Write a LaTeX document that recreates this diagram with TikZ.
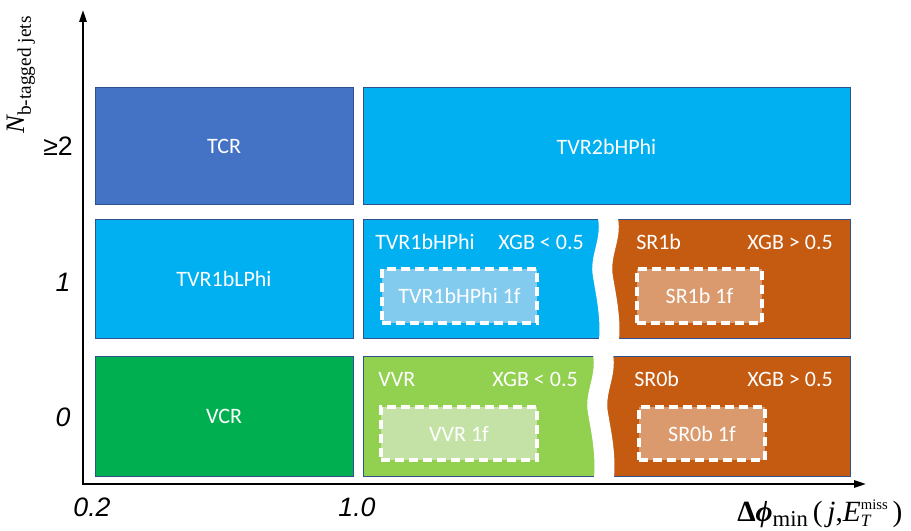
\documentclass[tikz,border=0pt]{standalone}
\usepackage{fontspec}
\setmainfont{Carlito}
\newfontfamily\tickfont{Liberation Sans}
\newfontfamily\titlefont{Liberation Serif}
\usetikzlibrary{arrows.meta,fit}

\definecolor{tcrblue}{HTML}{4472C4}
\definecolor{tvrblue}{HTML}{00B0F0}
\definecolor{vcrgreen}{HTML}{00B050}
\definecolor{vvrgreen}{HTML}{92D050}
\definecolor{srorange}{HTML}{C55A11}
\definecolor{edgeblue}{HTML}{2F528F}
\definecolor{tvrlight}{HTML}{82CBEE}
\definecolor{vvrlight}{HTML}{C4E2A6}
\definecolor{srlight}{HTML}{DA9A6E}

\tikzset{
  region/.style={draw=edgeblue, line width=0.75pt, inner sep=0pt},
  onefbox/.style={draw=white, line width=2.4pt, dash pattern=on 7pt off 3.5pt, inner sep=0pt},
  boxtext/.style={text=white, font=\fontsize{16.5}{19}\selectfont, inner sep=0pt},
  tick/.style={font=\tickfont\itshape\fontsize{20}{24}\selectfont, inner sep=0pt},
  axis/.style={line width=1.5pt, {Triangle[length=9pt,width=5.5pt]}-{Triangle[length=9pt,width=5.5pt]}}
}

\begin{document}
\begin{tikzpicture}[x=0.75pt,y=-0.75pt]
\useasboundingbox (0,0) rectangle (911,531);

% top row
\node[region, fill=tcrblue, fit={(95,88)(353,205)}, label={[boxtext]center:TCR}] (tcr) {};
\node[region, fill=tvrblue, fit={(363,88)(850,205)}, label={[boxtext]center:TVR2bHPhi}] (tvr2bh) {};

% middle row
\node[region, fill=tvrblue, fit={(95,220)(353,338)}, label={[boxtext]center:TVR1bLPhi}] (tvr1bl) {};
\node[region, fill=tvrblue, fit={(363,220)(610,338)}] (tvr1bh) {};
\node[region, fill=srorange, fit={(605,220)(850,338)}] (sr1b) {};

% bottom row
\node[region, fill=vcrgreen, fit={(95,356)(353,476)}, label={[boxtext]center:VCR}] (vcr) {};
\node[region, fill=vvrgreen, fit={(363,356)(605,476)}] (vvr) {};
\node[region, fill=srorange, fit={(600,356)(850,476)}] (sr0b) {};

% wavy breaks
\fill[white] (598,218.5) .. controls (602,240) and (589,256) .. (593,277)
  .. controls (596,295) and (601,318) .. (599,339.5) -- (619,339.5)
  .. controls (621,318) and (616,295) .. (613,277)
  .. controls (609,256) and (622,240) .. (618,218.5) -- cycle;
\fill[white] (593,354.5) .. controls (597,376) and (584,393) .. (588,413)
  .. controls (591,431) and (596,453) .. (594,477.5) -- (614,477.5)
  .. controls (616,453) and (611,431) .. (608,413)
  .. controls (604,393) and (617,376) .. (613,354.5) -- cycle;

% names and cuts
\node[boxtext, anchor=base west] (tvr1bhname) at (375,250) {TVR1bHPhi};
\node[boxtext, anchor=base east] (tvr1bhcut) at (584,250) {XGB < 0.5};
\node[boxtext, anchor=base west] (sr1bname) at (636,250) {SR1b};
\node[boxtext, anchor=base east] (sr1bcut) at (833,250) {XGB > 0.5};
\node[boxtext, anchor=base west] (vvrname) at (378,386) {VVR};
\node[boxtext, anchor=base east] (vvrcut) at (578,386) {XGB < 0.5};
\node[boxtext, anchor=base west] (sr0bname) at (634,386) {SR0b};
\node[boxtext, anchor=base east] (sr0bcut) at (833,386) {XGB > 0.5};

% 1f regions
\node[onefbox, fill=tvrlight, fit={(382,269)(537,323)}, label={[boxtext]center:TVR1bHPhi 1f}] (tvr1bh1f) {};
\node[onefbox, fill=srlight, fit={(637,269)(762,323)}, label={[boxtext]center:SR1b 1f}] (sr1b1f) {};
\node[onefbox, fill=vvrlight, fit={(381,407)(537,460)}, label={[boxtext]center:VVR 1f}] (vvr1f) {};
\node[onefbox, fill=srlight, fit={(639,407)(765,460)}, label={[boxtext]center:SR0b 1f}] (sr0b1f) {};

% axes
\coordinate (origin) at (83,484);
\coordinate (ytip) at (83,10);
\coordinate (xtip) at (866,484);
\draw[axis] (ytip) -- (origin) -- (xtip);

\node[tick] (tick02) at (92,507) {0.2};
\node[tick] (tick10) at (357,507) {1.0};
\node[tick] (tick0) at (63,417) {0};
\node[tick] (tick1) at (63,282) {1};
\node[tick, font=\tickfont\fontsize{20}{24}\selectfont] (tick2) at (58,146) {≥2};

\node[rotate=90, anchor=base, inner sep=0pt, font=\titlefont] (ytitle) at (25,75)
  {{\fontsize{20}{20}\selectfont\itshape N}\raisebox{-4.5pt}{\fontsize{14.5}{14.5}\selectfont b-tagged jets}};
\node[anchor=base west, inner sep=0pt, font=\titlefont\fontsize{22}{22}\selectfont] (xtitle) at (737,521)
  {{\bfseries Δ\itshape ϕ}\raisebox{-4pt}{\fontsize{17}{17}\selectfont min}\,(\,{\itshape j},{\itshape E}\makebox[0pt][l]{\raisebox{-4pt}{\fontsize{13}{13}\selectfont\itshape T}}\raisebox{9pt}{\fontsize{11}{11}\selectfont miss}\,)};
\end{tikzpicture}
\end{document}
